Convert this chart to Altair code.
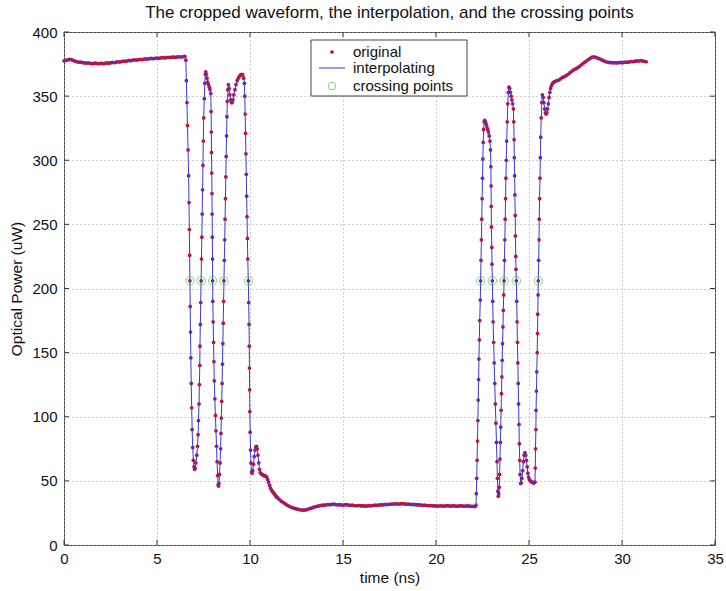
import altair as alt
import pandas as pd

FONT = "Liberation Sans"

# ---------------- data (time in ns, optical power in uW) ----------------
LEAD_T = [0.0, 0.1, 0.2, 0.3, 0.4, 0.5, 0.6, 0.7, 0.8, 0.9,
          1.0, 1.1, 1.2, 1.3, 1.4, 1.5, 1.6, 1.7, 1.8, 1.9,
          2.0, 2.1, 2.2, 2.3, 2.4, 2.5, 2.6, 2.7, 2.8, 2.9,
          3.0, 3.1, 3.2, 3.3, 3.4, 3.5, 3.6, 3.7, 3.8, 3.9,
          4.0, 4.1, 4.2, 4.3, 4.4, 4.5, 4.6, 4.7, 4.8, 4.9,
          5.0, 5.1, 5.2, 5.3, 5.4, 5.5, 5.6, 5.7, 5.8, 5.9,
          6.0, 6.1, 6.2, 6.3, 6.4, 6.5]
LEAD_P = [377.5, 377.8, 378.2, 378.6, 378.4, 377.9, 377.2, 376.8, 376.5, 376.6,
          376.2, 375.9, 375.8, 376.0, 375.6, 375.4, 375.5, 375.7, 375.3, 375.4,
          375.6, 375.3, 375.5, 375.9, 375.7, 376.0, 376.3, 376.1, 376.5, 376.8,
          376.6, 377.0, 377.3, 377.1, 377.5, 377.8, 377.6, 378.0, 378.3, 378.1,
          378.4, 378.7, 378.5, 378.8, 379.1, 378.9, 379.2, 379.4, 379.2, 379.5,
          379.7, 379.5, 379.8, 380.0, 379.8, 380.1, 380.3, 380.1, 380.4, 380.5,
          380.3, 380.6, 380.7, 380.5, 380.8, 381.0]

BURST1 = [
    (6.55, 378), (6.58, 362), (6.61, 345), (6.64, 327), (6.67, 308), (6.70, 288),
    (6.72, 267), (6.74, 246), (6.755, 226), (6.77, 206), (6.785, 186), (6.80, 166),
    (6.82, 146), (6.84, 126), (6.865, 107), (6.89, 90), (6.92, 76), (6.955, 66),
    (6.99, 61), (7.02, 59),
    (7.05, 60), (7.09, 64), (7.14, 70), (7.18, 77), (7.21, 86), (7.23, 97),
    (7.26, 110), (7.28, 125), (7.30, 140), (7.31, 155), (7.33, 172), (7.35, 189),
    (7.37, 206), (7.39, 223), (7.41, 240), (7.43, 258), (7.45, 277), (7.47, 296),
    (7.49, 315), (7.51, 333), (7.54, 348), (7.57, 360), (7.60, 367), (7.62, 369),
    (7.65, 367), (7.69, 364), (7.73, 361), (7.77, 359), (7.81, 357), (7.85, 355),
    (7.89, 352), (7.91, 338), (7.92, 322), (7.93, 306), (7.945, 290), (7.955, 274),
    (7.965, 258), (7.975, 240), (7.985, 223), (7.99, 206), (8.00, 190), (8.02, 174),
    (8.04, 158), (8.06, 143), (8.08, 128), (8.11, 114), (8.14, 101), (8.17, 89),
    (8.20, 77), (8.23, 65), (8.26, 54), (8.29, 47), (8.31, 46),
    (8.33, 48), (8.36, 55), (8.39, 64), (8.42, 75), (8.44, 87), (8.46, 99),
    (8.48, 112), (8.50, 126), (8.52, 141), (8.54, 157), (8.56, 173), (8.58, 190),
    (8.60, 206), (8.62, 222), (8.64, 238), (8.66, 254), (8.68, 270), (8.70, 287),
    (8.72, 303), (8.74, 319), (8.76, 334), (8.78, 346), (8.81, 355),
    (8.84, 359), (8.88, 356), (8.92, 351), (8.96, 347), (9.00, 345), (9.04, 345),
    (9.08, 347), (9.13, 351), (9.19, 355), (9.25, 359), (9.31, 362), (9.37, 364),
    (9.43, 365.5), (9.49, 366.5), (9.55, 367), (9.61, 366.5), (9.66, 364), (9.70, 360),
    (9.72, 350), (9.74, 336), (9.76, 321), (9.78, 305), (9.80, 289), (9.82, 272),
    (9.84, 256), (9.86, 239), (9.88, 223), (9.91, 206), (9.93, 189), (9.95, 172),
    (9.96, 155), (9.97, 138), (9.98, 121), (9.99, 104), (10.01, 88), (10.03, 74),
    (10.05, 64), (10.08, 57), (10.11, 56),
    (10.15, 58), (10.19, 63), (10.23, 69), (10.27, 74), (10.31, 76.5), (10.35, 77),
    (10.39, 75), (10.43, 70), (10.47, 64), (10.51, 59), (10.55, 56.5), (10.60, 55.5),
    (10.65, 55), (10.70, 54.5), (10.75, 54), (10.80, 54), (10.85, 53.5), (10.90, 53),
    (10.95, 51), (11.00, 49), (11.05, 46.5), (11.10, 44.5), (11.15, 43), (11.20, 42),
    (11.25, 41), (11.30, 40), (11.35, 39), (11.40, 38), (11.45, 37.2),
]

LOW = [
    (11.5, 36.5), (11.6, 35.2), (11.7, 34.0), (11.8, 33.0), (11.9, 32.0), (12.0, 31.0),
    (12.1, 30.3), (12.2, 29.6), (12.3, 29.0), (12.4, 28.5), (12.5, 28.1), (12.6, 27.7),
    (12.7, 27.4), (12.8, 27.2), (12.9, 27.1), (13.0, 27.3), (13.1, 27.8), (13.2, 28.3),
    (13.3, 28.8), (13.4, 29.3), (13.5, 29.8), (13.6, 30.2), (13.7, 30.5), (13.8, 30.8),
    (13.9, 31.0), (14.0, 31.0), (14.1, 31.3), (14.2, 31.5), (14.3, 31.4), (14.4, 31.6),
    (14.5, 31.8), (14.6, 31.5), (14.7, 31.3), (14.8, 31.4), (14.9, 31.2), (15.0, 31.0),
    (15.1, 31.2), (15.2, 31.4), (15.3, 31.1), (15.4, 30.9), (15.5, 31.0), (15.6, 30.8),
    (15.7, 30.6), (15.8, 30.8), (15.9, 30.7), (16.0, 30.5), (16.1, 30.6), (16.2, 30.4),
    (16.3, 30.5), (16.4, 30.7), (16.5, 30.6), (16.6, 30.8), (16.7, 31.0), (16.8, 30.9),
    (16.9, 31.1), (17.0, 31.3), (17.1, 31.2), (17.2, 31.4), (17.3, 31.6), (17.4, 31.5),
    (17.5, 31.7), (17.6, 31.9), (17.7, 31.8), (17.8, 32.0), (17.9, 32.1), (18.0, 31.9),
    (18.1, 32.0), (18.2, 32.2), (18.3, 32.0), (18.4, 31.8), (18.5, 31.9), (18.6, 31.7),
    (18.7, 31.5), (18.8, 31.6), (18.9, 31.4), (19.0, 31.2), (19.1, 31.3), (19.2, 31.1),
    (19.3, 30.9), (19.4, 31.0), (19.5, 30.8), (19.6, 30.7), (19.7, 30.8), (19.8, 30.6),
    (19.9, 30.5), (20.0, 30.6), (20.1, 30.4), (20.2, 30.5), (20.3, 30.6), (20.4, 30.4),
    (20.5, 30.5), (20.6, 30.7), (20.7, 30.5), (20.8, 30.4), (20.9, 30.6), (21.0, 30.5),
    (21.1, 30.3), (21.2, 30.4), (21.3, 30.6), (21.4, 30.5), (21.5, 30.3), (21.6, 30.4),
    (21.7, 30.5), (21.8, 30.3), (21.9, 30.2), (22.0, 30.1), (22.1, 30.0),
]

BURST2 = [
    (22.15, 31), (22.17, 40), (22.19, 52), (22.21, 66), (22.23, 81), (22.25, 97),
    (22.27, 113), (22.29, 129), (22.31, 145), (22.33, 160), (22.35, 175), (22.38, 191),
    (22.40, 206), (22.42, 222), (22.44, 238), (22.46, 254), (22.48, 270), (22.50, 286),
    (22.52, 301), (22.54, 314), (22.56, 324), (22.59, 330), (22.62, 331),
    (22.66, 330), (22.70, 328), (22.74, 326), (22.78, 324), (22.82, 322), (22.86, 319),
    (22.90, 315), (22.93, 308), (22.95, 295), (22.96, 280), (22.97, 264), (22.98, 248),
    (23.00, 232), (23.01, 219), (23.03, 206), (23.05, 190), (23.07, 174), (23.10, 158),
    (23.13, 142), (23.16, 126), (23.19, 110), (23.22, 95), (23.25, 80), (23.28, 65),
    (23.30, 52), (23.33, 42), (23.35, 38),
    (23.37, 40), (23.40, 45), (23.42, 55), (23.44, 67), (23.46, 80), (23.48, 92),
    (23.50, 105), (23.52, 118), (23.54, 131), (23.56, 144), (23.58, 157), (23.60, 170),
    (23.62, 183), (23.64, 195), (23.66, 206), (23.68, 222), (23.70, 238), (23.72, 254),
    (23.74, 270), (23.76, 286), (23.78, 300), (23.80, 315), (23.83, 330), (23.86, 344),
    (23.89, 353), (23.92, 357),
    (23.96, 356), (24.00, 353), (24.04, 350), (24.08, 347), (24.12, 344), (24.16, 340),
    (24.18, 330), (24.20, 316), (24.21, 302), (24.23, 288), (24.24, 273), (24.26, 257),
    (24.27, 241), (24.29, 225), (24.30, 215), (24.32, 206), (24.34, 190), (24.36, 174),
    (24.38, 158), (24.40, 142), (24.42, 126), (24.44, 110), (24.46, 94), (24.48, 79),
    (24.50, 66), (24.52, 55), (24.55, 48),
    (24.58, 48.5), (24.62, 52), (24.66, 58), (24.70, 65), (24.74, 70), (24.78, 72),
    (24.82, 70), (24.86, 66), (24.90, 61), (24.94, 56), (24.98, 53), (25.02, 51),
    (25.07, 50), (25.12, 49.5), (25.17, 49), (25.22, 48.5), (25.27, 48.5), (25.32, 49),
    (25.34, 60), (25.35, 75), (25.37, 90), (25.38, 105), (25.40, 120), (25.42, 135),
    (25.44, 150), (25.46, 165), (25.47, 180), (25.49, 195), (25.50, 206), (25.52, 222),
    (25.54, 238), (25.55, 254), (25.57, 270), (25.59, 286), (25.61, 302), (25.63, 318),
    (25.66, 333), (25.69, 345), (25.72, 351),
    (25.76, 349), (25.80, 345), (25.84, 340), (25.88, 337), (25.92, 336), (25.96, 337),
    (26.00, 340), (26.04, 344), (26.08, 349), (26.12, 353), (26.16, 356), (26.20, 358),
    (26.25, 359.5), (26.30, 360.5), (26.35, 361), (26.40, 361.5),
]

TAIL = [
    (26.5, 362.0), (26.6, 362.5), (26.7, 363.5), (26.8, 364.6), (26.9, 365.2),
    (27.0, 366.0), (27.1, 367.0), (27.2, 368.2), (27.3, 369.3), (27.4, 370.4),
    (27.5, 371.2), (27.6, 372.0), (27.7, 373.0), (27.8, 374.2), (27.9, 375.3),
    (28.0, 376.5), (28.1, 377.5), (28.2, 378.6), (28.3, 379.6), (28.4, 380.4),
    (28.5, 380.7), (28.6, 380.2), (28.7, 379.6), (28.8, 379.0), (28.9, 378.3),
    (29.0, 377.6), (29.1, 377.0), (29.2, 376.6), (29.3, 376.3), (29.4, 376.2),
    (29.5, 376.0), (29.6, 376.2), (29.7, 375.9), (29.8, 376.1), (29.9, 376.3),
    (30.0, 376.1), (30.1, 376.4), (30.2, 376.6), (30.3, 376.4), (30.4, 376.7),
    (30.5, 377.0), (30.6, 376.8), (30.7, 377.2), (30.8, 377.5), (30.9, 377.3),
    (31.0, 377.6), (31.1, 377.4), (31.2, 377.1), (31.3, 376.8),
]

CROSS_T = [6.77, 7.37, 7.99, 8.60, 9.91, 22.40, 23.03, 23.66, 24.32, 25.50]
CROSS_P = [206, 206, 206, 206, 206, 206, 206, 206, 206, 206]

X_TICKS = [0, 5, 10, 15, 20, 25, 30, 35]
Y_TICKS = [0, 50, 100, 150, 200, 250, 300, 350, 400]

LEGEND_LABELS = ["original", "interpolating", "crossing points"]

# ---------------- build tables ----------------
samples = list(zip(LEAD_T, LEAD_P)) + BURST1 + LOW + BURST2 + TAIL
wave = pd.DataFrame(samples, columns=["t", "p"])
wave["i"] = range(len(wave))
cross = pd.DataFrame({"t": CROSS_T, "p": CROSS_P})
xt = pd.DataFrame({"t": X_TICKS})
yt = pd.DataFrame({"p": Y_TICKS})
one = pd.DataFrame({"a": [0]})

W, H = 651, 513
xs = alt.Scale(domain=[0, 35], nice=False, zero=False)
ys = alt.Scale(domain=[0, 400], nice=False, zero=False)

x_axis = alt.Axis(values=X_TICKS, title="time (ns)", labelPadding=6, titlePadding=4,
                  labelFlush=False, grid=True)
y_axis = alt.Axis(values=Y_TICKS, title="Optical Power (uW)", labelPadding=7,
                  titlePadding=7, labelFlush=False, grid=True)

XE = alt.X("t:Q", scale=xs, axis=x_axis)
YE = alt.Y("p:Q", scale=ys, axis=y_axis)

RED = "#c4103e"
BLUE = "#3a3ad0"
GREEN = "#40c840"

orig = alt.Chart(wave).mark_circle(size=14, color=RED, opacity=1).encode(x=XE, y=YE)
interp = alt.Chart(wave).mark_line(color=BLUE, strokeWidth=1).encode(
    x=XE, y=YE, order="i:Q")
crossing = alt.Chart(cross).mark_point(shape="circle", size=70, color=GREEN,
                                       strokeWidth=1, filled=False).encode(x=XE, y=YE)

TK = "#333333"
tick_b = alt.Chart(xt).mark_rule(color=TK, strokeWidth=1).encode(
    x=XE, y=alt.value(H - 5), y2=alt.value(H))
tick_t = alt.Chart(xt).mark_rule(color=TK, strokeWidth=1).encode(
    x=XE, y=alt.value(0), y2=alt.value(5))
tick_l = alt.Chart(yt).mark_rule(color=TK, strokeWidth=1).encode(
    y=YE, x=alt.value(0), x2=alt.value(5))
tick_r = alt.Chart(yt).mark_rule(color=TK, strokeWidth=1).encode(
    y=YE, x=alt.value(W - 5), x2=alt.value(W))

# legend box (drawn on top like MATLAB's legend)
leg_box = alt.Chart(one).mark_rect(fill="white", stroke="#444444", strokeWidth=1).encode(
    x=alt.value(247), x2=alt.value(403), y=alt.value(8), y2=alt.value(64))
leg_dot = alt.Chart(one).mark_circle(size=14, color=RED, opacity=1).encode(
    x=alt.value(268), y=alt.value(20))
leg_line = alt.Chart(one).mark_rule(color=BLUE, strokeWidth=1).encode(
    x=alt.value(255), x2=alt.value(281), y=alt.value(36))
leg_circ = alt.Chart(one).mark_point(shape="circle", size=55, color=GREEN,
                                     strokeWidth=1, filled=False).encode(
    x=alt.value(268), y=alt.value(54))
leg_texts = []
for lbl, yy in zip(LEGEND_LABELS, [20, 36, 54]):
    leg_texts.append(
        alt.Chart(one).mark_text(text=lbl, align="left", baseline="middle",
                                 font=FONT, fontSize=15, color="#111111").encode(
            x=alt.value(289), y=alt.value(yy)))

chart = alt.layer(
    orig, interp, crossing, tick_b, tick_t, tick_l, tick_r,
    leg_box, leg_dot, leg_line, leg_circ, *leg_texts,
).properties(
    width=W, height=H,
    title=alt.TitleParams(
        "The cropped waveform, the interpolation, and the crossing points",
        font=FONT, fontSize=17, fontWeight="normal", color="#111111",
        anchor="middle", offset=0, baseline="bottom", dy=14),
    autosize=alt.AutoSizeParams(type="none"),
    padding={"left": 64, "top": 32, "right": 11, "bottom": 46},
).configure_view(
    stroke="#4a4a4a", strokeWidth=1
).configure_axis(
    gridColor="#a0a0a0", gridDash=[1, 3], gridWidth=1,
    domain=False, ticks=False, tickSize=0,
    labelFont=FONT, labelFontSize=15, labelColor="#111111",
    titleFont=FONT, titleFontSize=15.5, titleFontWeight="normal", titleColor="#111111",
)

chart.save("out.html", embed_options={"renderer": "svg", "actions": False})
